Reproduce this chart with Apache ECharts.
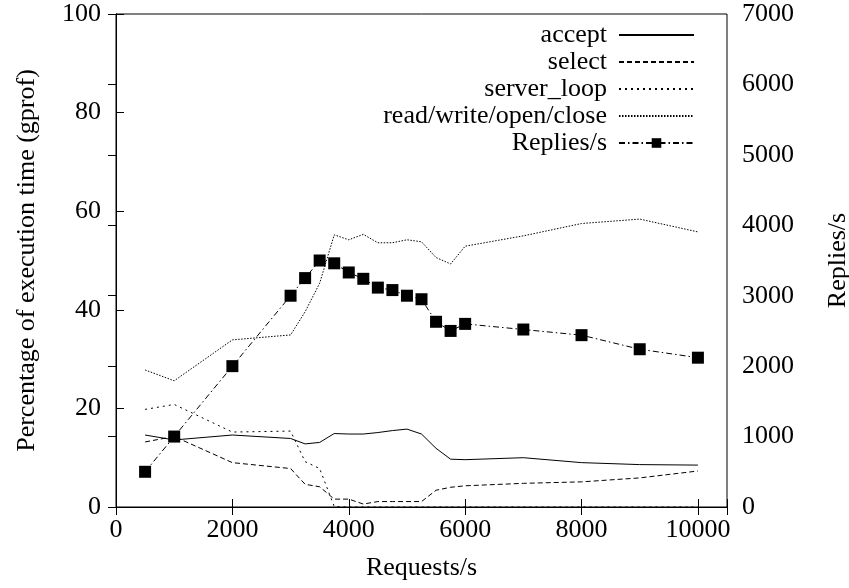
<!DOCTYPE html>
<html>
<head>
<meta charset="utf-8">
<script src="https://cdn.jsdelivr.net/npm/echarts@6/dist/echarts.min.js"></script>
<style>
html,body{margin:0;padding:0;background:#fff;}
#chart{width:849px;height:588px;}
</style>
</head>
<body>
<div id="chart"></div>
<script>
var requests = [500, 1000, 2000, 3000, 3250, 3500, 3750, 4000, 4250, 4500, 4750, 5000, 5250, 5500, 5750, 6000, 7000, 8000, 9000, 10000];
var accept = [14.6, 13.6, 14.6, 13.9, 12.8, 13.1, 14.9, 14.8, 14.8, 15.1, 15.5, 15.8, 14.8, 11.9, 9.7, 9.6, 10.0, 9.0, 8.6, 8.5];
var select = [13.2, 14.3, 9.0, 7.8, 4.6, 4.1, 1.6, 1.6, 0.6, 1.1, 1.1, 1.1, 1.1, 3.4, 4.0, 4.3, 4.8, 5.1, 5.9, 7.3];
var serverLoop = [19.8, 20.8, 15.2, 15.4, 9.2, 7.8, 0.1, 0, 0, 0, 0, 0, 0, 0, 0, 0, 0, 0, 0, 0];
var rwoc = [27.8, 25.6, 33.9, 34.9, 39.6, 45.4, 55.2, 54.2, 55.3, 53.6, 53.6, 54.2, 53.8, 50.6, 49.3, 52.9, 55.0, 57.5, 58.4, 55.8];
var replies = [500, 1000, 2000, 3000, 3250, 3500, 3460, 3330, 3240, 3115, 3080, 3000, 2950, 2630, 2500, 2600, 2520, 2440, 2240, 2120];
var seriesNames = ['accept', 'select', 'server_loop', 'read/write/open/close', 'Replies/s'];
var xName = 'Requests/s';
var yName = 'Percentage of execution time (gprof)';
var y2Name = 'Replies/s';

function pairs(xs, ys) { return xs.map(function (x, i) { return [x, ys[i]]; }); }

var FONT = 'Liberation Serif';
var FS = 26;
var chart = echarts.init(document.getElementById('chart'), null, {renderer: 'canvas'});

function lineSeries(name, data, dash, yIdx) {
  return {
    name: name, type: 'line', data: data, yAxisIndex: yIdx || 0,
    symbol: 'none', showSymbol: false, animation: false,
    lineStyle: {color: '#000', width: 1, type: dash},
    itemStyle: {color: '#000'}
  };
}

var option = {
  animation: false,
  backgroundColor: '#fff',
  textStyle: {fontFamily: FONT, color: '#000'},
  grid: {left: 116, right: 122, top: 14, bottom: 81, containLabel: false, outerBoundsMode: 'none',
    show: true, borderColor: '#000', borderWidth: 1, backgroundColor: 'transparent'},
  legend: {
    orient: 'vertical', right: 154, top: 22, padding: 0, align: 'right',
    itemWidth: 75, itemHeight: 12, itemGap: 1,
    textStyle: {fontFamily: FONT, fontSize: FS, color: '#000', lineHeight: 26, padding: [0, 7, 0, 0]},
    data: seriesNames.map(function (n, i) {
      return i < 4 ? {name: n, itemStyle: {opacity: 0}} : {name: n};
    })
  },
  xAxis: [{
    type: 'value', min: 0, max: 10500, interval: 2000,
    name: xName, nameLocation: 'middle', nameGap: 48,
    nameTextStyle: {fontFamily: FONT, fontSize: FS, color: '#000'},
    axisLine: {show: true, lineStyle: {color: '#000', width: 1}},
    axisTick: {show: true, inside: true, length: 8, lineStyle: {color: '#000'}},
    axisLabel: {fontFamily: FONT, fontSize: FS, color: '#000', margin: 10,
      formatter: function (v) { return v % 2000 === 0 ? String(v) : ''; }},
    splitLine: {show: false}
  }, {
    type: 'value', min: 0, max: 10500, interval: 2000, position: 'top',
    axisLine: {show: true, lineStyle: {color: '#000', width: 1}},
    axisTick: {show: true, inside: true, length: 8, lineStyle: {color: '#000'}},
    axisLabel: {show: false}, splitLine: {show: false}
  }],
  yAxis: [{
    type: 'value', min: 0, max: 100, interval: 20, position: 'left',
    name: yName, nameLocation: 'middle', nameGap: 76, nameRotate: 90,
    nameTextStyle: {fontFamily: FONT, fontSize: FS, color: '#000'},
    axisLine: {show: true, lineStyle: {color: '#000', width: 1}},
    axisTick: {show: true, inside: true, length: 8, lineStyle: {color: '#000'}},
    axisLabel: {fontFamily: FONT, fontSize: FS, color: '#000', margin: 15},
    splitLine: {show: false}
  }, {
    type: 'value', min: 0, max: 7000, interval: 1000, position: 'right',
    name: y2Name, nameLocation: 'middle', nameGap: 98, nameRotate: 90,
    nameTextStyle: {fontFamily: FONT, fontSize: FS, color: '#000'},
    axisLine: {show: true, lineStyle: {color: '#000', width: 1}},
    axisTick: {show: true, inside: true, length: 8, lineStyle: {color: '#000'}},
    axisLabel: {fontFamily: FONT, fontSize: FS, color: '#000', margin: 15,
      formatter: function (v) { return String(v); }},
    splitLine: {show: false}
  }],
  series: [
    lineSeries(seriesNames[0], pairs(requests, accept), 'solid'),
    lineSeries(seriesNames[1], pairs(requests, select), [5, 3]),
    lineSeries(seriesNames[2], pairs(requests, serverLoop), [2, 4]),
    lineSeries(seriesNames[3], pairs(requests, rwoc), [1.5, 1.5]),
    {
      name: seriesNames[4], type: 'line', yAxisIndex: 1, data: pairs(requests, replies),
      symbol: 'rect', symbolSize: 12, showSymbol: true,
      lineStyle: {color: '#000', width: 1, type: [6, 3, 1.5, 3]},
      itemStyle: {color: '#000'}
    }
  ]
};
chart.setOption(option);
</script>
</body>
</html>
